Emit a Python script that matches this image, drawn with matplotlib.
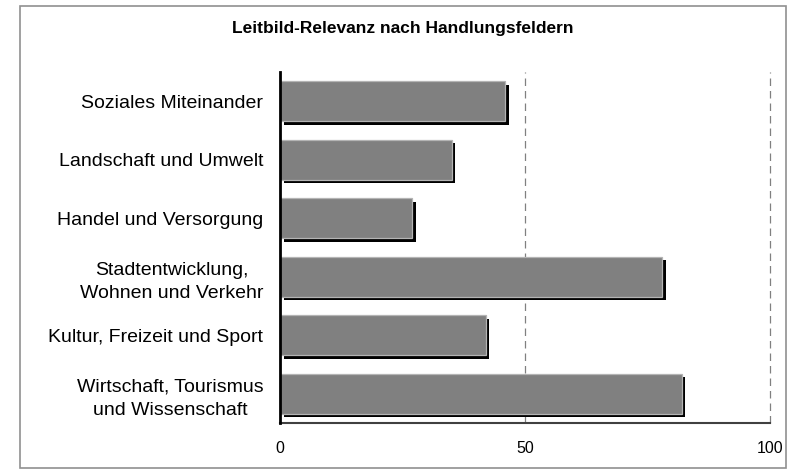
import matplotlib
matplotlib.use("Agg")
import matplotlib.pyplot as plt
from matplotlib.patches import Rectangle
from matplotlib.transforms import offset_copy

plt.rcParams['font.family'] = ['Liberation Sans', 'DejaVu Sans']

title = "Leitbild-Relevanz nach Handlungsfeldern"
categories = [
    "Wirtschaft, Tourismus\nund Wissenschaft",
    "Kultur, Freizeit und Sport",
    "Stadtentwicklung,\nWohnen und Verkehr",
    "Handel und Versorgung",
    "Landschaft und Umwelt",
    "Soziales Miteinander",
]
values = [82, 42, 78, 27, 35, 46]
xticks = [0, 50, 100]

fig = plt.figure(figsize=(7.92, 4.71), dpi=100)
ax = fig.add_axes([280/792, 1-423/471, 490/792, 351/471])

pos = list(range(len(categories)))
shadow_tr = offset_copy(ax.transData, fig=fig, x=3.5, y=-3.5, units='dots')
ax.barh(pos, values, height=0.69, color='black', transform=shadow_tr, zorder=2)
ax.barh(pos, values, height=0.69, color='#808080', edgecolor='#b4b4b4',
        linewidth=0.9, zorder=3)

ax.set_xlim(0, 100)
ax.set_ylim(-0.5, len(categories) - 0.5)
ax.set_xticks(xticks)
ax.set_xticklabels([str(t) for t in xticks], fontsize=11.5)
ax.set_yticks(pos)
ax.set_yticklabels(categories, fontsize=14, linespacing=1.5)
for lbl in ax.get_yticklabels():
    lbl.set_multialignment('center')
ax.tick_params(axis='x', length=0, pad=13)
ax.tick_params(axis='y', length=0, pad=12)

for x in [50, 100]:
    ax.axvline(x, color='#808080', lw=0.9, ls=(0, (6, 4)), zorder=1,
               clip_on=False)

for s in ['top', 'right']:
    ax.spines[s].set_visible(False)
ax.spines['left'].set_color('black')
ax.spines['left'].set_linewidth(2)
ax.spines['left'].set_zorder(5)
ax.spines['bottom'].set_color('#404040')
ax.spines['bottom'].set_linewidth(1.5)

fig.text(403/792, 1-29/471, title, ha='center', va='center',
         fontsize=12.5, fontweight='bold')

fig.patches.append(Rectangle((20/792, 1-468/471), 766/792, 462/471,
                             transform=fig.transFigure, fill=False,
                             edgecolor='#909090', linewidth=1.2))

fig.savefig("out.png", dpi=100)
